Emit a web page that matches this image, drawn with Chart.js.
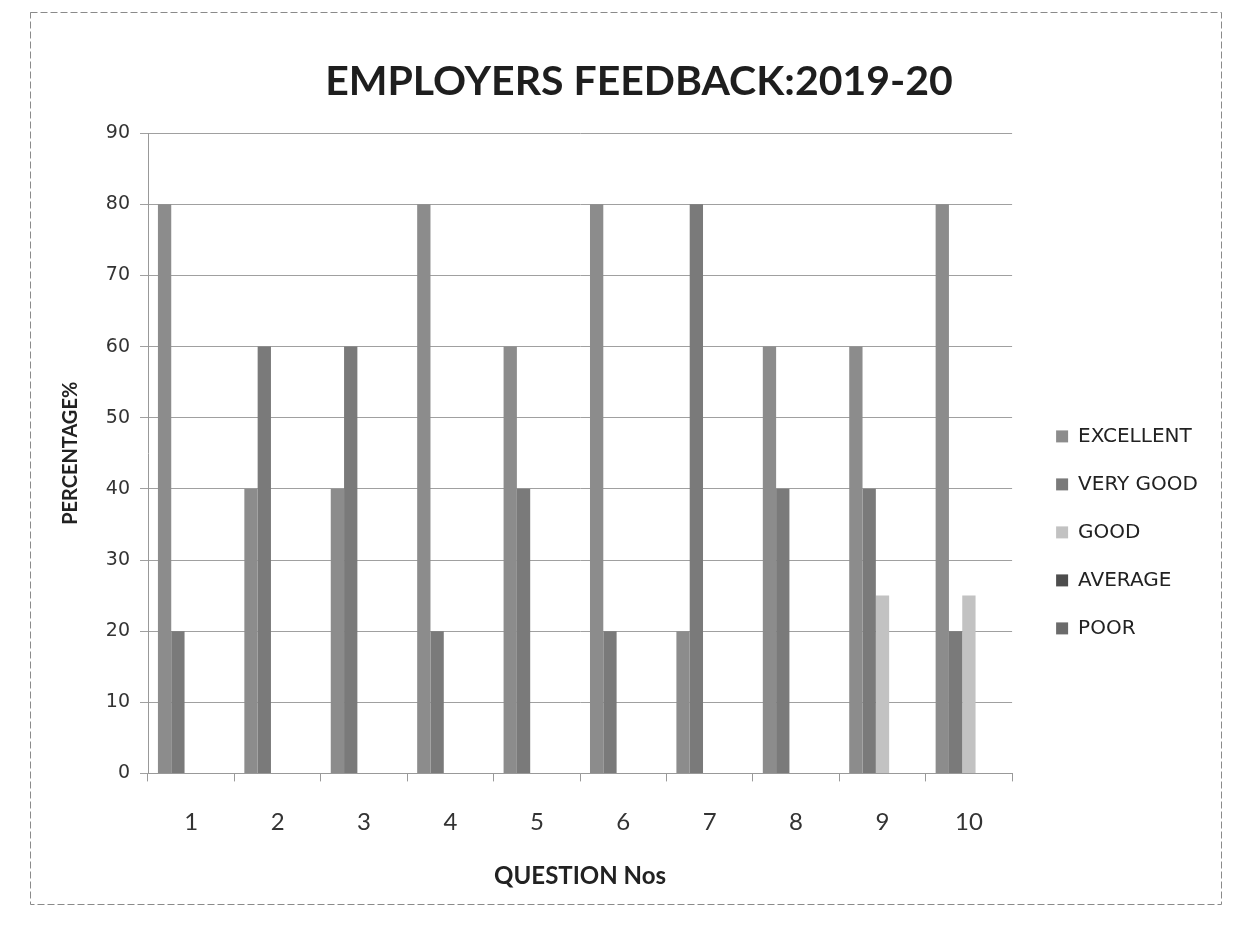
<!DOCTYPE html>
<html><head><meta charset="utf-8">
<script src="https://cdn.jsdelivr.net/npm/chart.js@4"></script>
<style>html,body{margin:0;padding:0;background:#fff}#wrap{position:relative;width:1235px;height:930px}</style>
</head><body><div id="wrap"><canvas id="c" width="1235" height="930"></canvas></div>
<script>
const questions = ['1','2','3','4','5','6','7','8','9','10'];
const excellent = [80,40,40,80,60,80,20,60,60,80];
const veryGood = [20,60,60,20,40,20,80,40,40,20];
const good = [0,0,0,0,0,0,0,0,25,25];
const average = [0,0,0,0,0,0,0,0,0,0];
const poor = [0,0,0,0,0,0,0,0,0,0];
const seriesNames = ['EXCELLENT','VERY GOOD','GOOD','AVERAGE','POOR'];
const seriesColors = ['#8c8c8c','#7a7a7a','#c2c2c2','#4d4d4d','#6b6b6b'];
const yMin = 0, yMax = 90, yStep = 10;

const CAL = "Lato,'Liberation Sans',Arial,sans-serif";

const framePlugin = {
  id: 'frame',
  beforeDraw(chart) {
    const ctx = chart.ctx;
    ctx.save();
    ctx.strokeStyle = '#8a8a8a';
    ctx.lineWidth = 1;
    ctx.setLineDash([7, 3]);
    ctx.strokeRect(30.5, 12.5, 1191, 892);
    ctx.restore();
  }
};

const values = [excellent, veryGood, good, average, poor];
new Chart(document.getElementById('c'), {
  type: 'bar',
  data: {
    labels: questions,
    datasets: seriesNames.map((n, i) => ({
      label: n,
      data: values[i],
      backgroundColor: seriesColors[i],
      borderWidth: 0,
      categoryPercentage: 0.77,
      barPercentage: 1.0
    }))
  },
  options: {
    responsive: false,
    devicePixelRatio: 1,
    animation: false,
    layout: { padding: { top: 57, left: 70, right: 27, bottom: 39 } },
    plugins: {
      title: {
        display: true, text: 'EMPLOYERS FEEDBACK:2019-20', color: '#1e1e1e',
        font: { family: CAL, size: 41, weight: 'bold' },
        padding: { top: 0, bottom: 27 }
      },
      legend: {
        position: 'right', align: 'start',
        title: { display: true, text: ' ', padding: { top: 0, bottom: 327 } },
        labels: {
          boxWidth: 12, boxHeight: 12, padding: 28, color: '#222',
          font: { family: 'DejaVu Sans', size: 20 }
        }
      },
      tooltip: { enabled: false }
    },
    scales: {
      x: {
        grid: { display: true, drawOnChartArea: false, drawTicks: true, tickLength: 8, offset: true, color: '#999' },
        border: { color: '#999' },
        ticks: { padding: 26, color: '#333', font: { family: CAL, size: 24 } },
        title: {
          display: true, text: 'QUESTION Nos', color: '#222',
          font: { family: CAL, size: 24, weight: 'bold' },
          padding: { top: 0, bottom: 0 }
        }
      },
      y: {
        min: yMin, max: yMax,
        ticks: { stepSize: yStep, padding: 10, color: '#333', font: { family: 'DejaVu Sans', size: 19 } },
        grid: { color: '#a0a0a0', tickLength: 8 },
        border: { color: '#999' },
        title: {
          display: true, text: 'PERCENTAGE%', color: '#222',
          font: { family: CAL, size: 20, weight: 'bold' },
          padding: { top: -11, bottom: 0 }
        },
        afterFit(s) { s.width = 78; }
      },
      y2: {
        position: 'right', display: true,
        grid: { display: false, drawTicks: false }, ticks: { display: false }, border: { display: false },
        afterFit(s) { s.width = 16; }
      }
    }
  },
  plugins: [framePlugin]
});
</script></body></html>
